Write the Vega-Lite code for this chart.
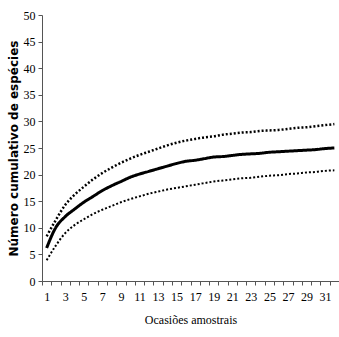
{
  "$schema": "https://vega.github.io/schema/vega-lite/v6.json",
  "width": 297,
  "height": 266,
  "autosize": "none",
  "padding": {"left": 42, "top": 15, "right": 0, "bottom": 56},
  "background": "white",
  "config": {"view": {"stroke": null}},
  "datasets": {
    "curves": [
      {"x":1,"s":"media","v":6.2},{"x":2,"s":"media","v":10.1},{"x":3,"s":"media","v":12.1},{"x":4,"s":"media","v":13.5},
      {"x":5,"s":"media","v":14.8},{"x":6,"s":"media","v":15.9},{"x":7,"s":"media","v":17.0},{"x":8,"s":"media","v":17.9},
      {"x":9,"s":"media","v":18.7},{"x":10,"s":"media","v":19.5},{"x":11,"s":"media","v":20.1},{"x":12,"s":"media","v":20.6},
      {"x":13,"s":"media","v":21.1},{"x":14,"s":"media","v":21.6},{"x":15,"s":"media","v":22.1},{"x":16,"s":"media","v":22.5},
      {"x":17,"s":"media","v":22.7},{"x":18,"s":"media","v":23.0},{"x":19,"s":"media","v":23.3},{"x":20,"s":"media","v":23.4},
      {"x":21,"s":"media","v":23.6},{"x":22,"s":"media","v":23.8},{"x":23,"s":"media","v":23.9},{"x":24,"s":"media","v":24.0},
      {"x":25,"s":"media","v":24.2},{"x":26,"s":"media","v":24.3},{"x":27,"s":"media","v":24.4},{"x":28,"s":"media","v":24.5},
      {"x":29,"s":"media","v":24.6},{"x":30,"s":"media","v":24.7},{"x":31,"s":"media","v":24.9},{"x":32,"s":"media","v":25.0},
      {"x":1,"s":"superior","v":8.4},{"x":2,"s":"superior","v":11.5},{"x":3,"s":"superior","v":14.3},{"x":4,"s":"superior","v":16.2},
      {"x":5,"s":"superior","v":17.7},{"x":6,"s":"superior","v":19.1},{"x":7,"s":"superior","v":20.3},{"x":8,"s":"superior","v":21.3},
      {"x":9,"s":"superior","v":22.2},{"x":10,"s":"superior","v":23.0},{"x":11,"s":"superior","v":23.7},{"x":12,"s":"superior","v":24.3},
      {"x":13,"s":"superior","v":24.9},{"x":14,"s":"superior","v":25.5},{"x":15,"s":"superior","v":26.0},{"x":16,"s":"superior","v":26.4},
      {"x":17,"s":"superior","v":26.7},{"x":18,"s":"superior","v":27.0},{"x":19,"s":"superior","v":27.2},{"x":20,"s":"superior","v":27.5},
      {"x":21,"s":"superior","v":27.7},{"x":22,"s":"superior","v":27.9},{"x":23,"s":"superior","v":28.0},{"x":24,"s":"superior","v":28.2},
      {"x":25,"s":"superior","v":28.3},{"x":26,"s":"superior","v":28.4},{"x":27,"s":"superior","v":28.6},{"x":28,"s":"superior","v":28.8},
      {"x":29,"s":"superior","v":28.9},{"x":30,"s":"superior","v":29.1},{"x":31,"s":"superior","v":29.3},{"x":32,"s":"superior","v":29.5},
      {"x":1,"s":"inferior","v":3.9},{"x":2,"s":"inferior","v":6.7},{"x":3,"s":"inferior","v":9.0},{"x":4,"s":"inferior","v":10.5},
      {"x":5,"s":"inferior","v":11.6},{"x":6,"s":"inferior","v":12.6},{"x":7,"s":"inferior","v":13.4},{"x":8,"s":"inferior","v":14.1},
      {"x":9,"s":"inferior","v":14.8},{"x":10,"s":"inferior","v":15.4},{"x":11,"s":"inferior","v":15.9},{"x":12,"s":"inferior","v":16.4},
      {"x":13,"s":"inferior","v":16.8},{"x":14,"s":"inferior","v":17.2},{"x":15,"s":"inferior","v":17.5},{"x":16,"s":"inferior","v":17.8},
      {"x":17,"s":"inferior","v":18.1},{"x":18,"s":"inferior","v":18.4},{"x":19,"s":"inferior","v":18.7},{"x":20,"s":"inferior","v":18.9},
      {"x":21,"s":"inferior","v":19.1},{"x":22,"s":"inferior","v":19.3},{"x":23,"s":"inferior","v":19.4},{"x":24,"s":"inferior","v":19.6},
      {"x":25,"s":"inferior","v":19.8},{"x":26,"s":"inferior","v":19.9},{"x":27,"s":"inferior","v":20.1},{"x":28,"s":"inferior","v":20.2},
      {"x":29,"s":"inferior","v":20.4},{"x":30,"s":"inferior","v":20.5},{"x":31,"s":"inferior","v":20.7},{"x":32,"s":"inferior","v":20.8}
    ]
  },
  "data": {"name": "curves"},
  "mark": {"type": "line", "color": "black", "interpolate": "monotone"},
  "encoding": {
    "x": {
      "field": "x", "type": "ordinal",
      "scale": {"type": "band", "paddingInner": 0, "paddingOuter": 0},
      "bandPosition": 0.5,
      "axis": {
        "title": "Ocasiões amostrais",
        "labelAngle": 0,
        "labelExpr": "datum.value % 2 == 1 ? datum.label : ''",
        "tickBand": "extent",
        "domainColor": "#555", "tickColor": "#555",
        "tickSize": 4,
        "labelFont": "Liberation Serif", "labelFontSize": 12, "labelColor": "black",
        "labelPadding": 6,
        "titleFont": "Liberation Serif", "titleFontSize": 12, "titleFontWeight": "normal", "titleColor": "black",
        "titlePadding": 12
      }
    },
    "y": {
      "field": "v", "type": "quantitative",
      "scale": {"domain": [0, 50], "nice": false},
      "axis": {
        "title": "Número cumulativo de espécies",
        "values": [0, 5, 10, 15, 20, 25, 30, 35, 40, 45, 50],
        "grid": false,
        "domainColor": "#555", "tickColor": "#555",
        "tickSize": 4,
        "labelFont": "Liberation Serif", "labelFontSize": 12, "labelColor": "black",
        "labelPadding": 3,
        "titleFont": "DejaVu Sans", "titleFontSize": 12, "titleFontWeight": "bold", "titleColor": "black",
        "titlePadding": 3
      }
    },
    "detail": {"field": "s"},
    "strokeDash": {
      "field": "s", "type": "nominal",
      "scale": {"domain": ["media", "superior", "inferior"], "range": [[1, 0], [2, 2], [2, 2]]},
      "legend": null
    },
    "strokeWidth": {
      "field": "s", "type": "nominal",
      "scale": {"domain": ["media", "superior", "inferior"], "range": [3, 2, 2]},
      "legend": null
    }
  }
}
